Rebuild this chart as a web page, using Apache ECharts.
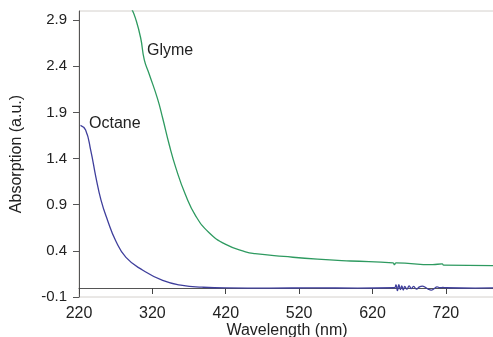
<!DOCTYPE html>
<html>
<head>
<meta charset="utf-8">
<script src="https://cdn.jsdelivr.net/npm/echarts@6/dist/echarts.min.js"></script>
<style>
html,body{margin:0;padding:0;background:#fff;}
#c{width:493px;height:337px;}
</style>
</head>
<body>
<div id="c"></div>
<script>
// Octane spectrum (wavelength nm, absorption a.u.)
var octaneWl  = [222, 229, 236, 243, 250, 259, 270, 284, 307, 334, 361, 388, 420, 480, 540, 600, 650, 652, 654, 656, 658, 660, 662, 664, 667, 670, 673, 676, 680, 684, 688, 692, 696, 700, 704, 708, 712, 716, 720, 760, 787];
var octaneAbs = [1.76, 1.71, 1.49, 1.20, 0.95, 0.73, 0.51, 0.33, 0.19, 0.08, 0.025, 0.006, -0.002, -0.003, -0.002, -0.003, 0.0, 0.03, -0.03, 0.035, -0.02, 0.02, -0.025, 0.015, -0.015, 0.02, -0.01, 0.015, -0.015, 0.01, 0.018, 0.005, -0.015, -0.025, -0.01, 0.01, 0.0, 0.005, 0.0, -0.003, -0.002];
// Glyme spectrum
var glymeWl  = [292, 297, 304, 309, 315.5, 327, 334, 343, 352, 365, 379, 397, 420, 447, 460, 499, 545, 590, 648, 650, 652, 702, 715, 717, 787];
var glymeAbs = [3.02, 2.92, 2.71, 2.47, 2.32, 2.05, 1.84, 1.55, 1.30, 1.01, 0.78, 0.60, 0.47, 0.39, 0.37, 0.34, 0.31, 0.29, 0.27, 0.25, 0.27, 0.25, 0.26, 0.245, 0.24];
// Tick labels
var xTicks = [220, 320, 420, 520, 620, 720];
var yTicks = [-0.1, 0.4, 0.9, 1.4, 1.9, 2.4, 2.9];

function pairs(xs, ys){ return xs.map(function(x,i){ return [x, ys[i]]; }); }

var FONT = 'Liberation Sans';
var chart = echarts.init(document.getElementById('c'), null, {renderer:'canvas'});
chart.setOption({
  animation: false,
  backgroundColor: '#fff',
  grid: {left: 79, right: -2, top: 11, bottom: 40, show: true, borderColor: '#d4d0cc', borderWidth: 1, containLabel: false, outerBoundsMode: 'none'},
  xAxis: {
    type: 'value', min: 220, max: 787, position: 'bottom', offset: -9,
    axisLine: {show: true, onZero: false, lineStyle: {color: '#555', width: 1}},
    axisTick: {show: true, inside: false, length: 6, customValues: xTicks, lineStyle: {color: '#444', width: 1}},
    axisLabel: {show: true, customValues: xTicks, margin: 18, color: '#222', fontFamily: FONT, fontSize: 16},
    splitLine: {show: false},
    name: 'Wavelength (nm)', nameLocation: 'middle', nameGap: 35, nameMoveOverlap: false,
    nameTextStyle: {color: '#222', fontFamily: FONT, fontSize: 16, verticalAlign: 'top'}
  },
  yAxis: {
    type: 'value', min: -0.1, max: 3.0,
    axisLine: {show: true, lineStyle: {color: '#555', width: 1}},
    axisTick: {show: true, length: 6, customValues: yTicks, lineStyle: {color: '#555'}},
    axisLabel: {show: true, customValues: yTicks, margin: 12, color: '#222', fontFamily: FONT, fontSize: 15,
      formatter: function(v){ return Number(v).toFixed(1); }},
    splitLine: {show: false},
    name: 'Absorption (a.u.)', nameLocation: 'middle', nameGap: 54, nameMoveOverlap: false,
    nameTextStyle: {color: '#222', fontFamily: FONT, fontSize: 16}
  },
  series: [
    {
      name: 'Octane', type: 'line', data: pairs(octaneWl, octaneAbs),
      showSymbol: false, smooth: 0.5,
      lineStyle: {color: '#3f3f9c', width: 1.3}, clip: true
    },
    {
      name: 'Glyme', type: 'line', data: pairs(glymeWl, glymeAbs),
      showSymbol: false, smooth: 0.5,
      lineStyle: {color: '#2e9a60', width: 1.3}, clip: true
    }
  ],
  graphic: [
    {type: 'text', left: 147, top: 43, style: {text: 'Glyme', fill: '#222', font: '16px "Liberation Sans"'}},
    {type: 'text', left: 89, top: 116, style: {text: 'Octane', fill: '#222', font: '16px "Liberation Sans"'}}
  ]
});
</script>
</body>
</html>
